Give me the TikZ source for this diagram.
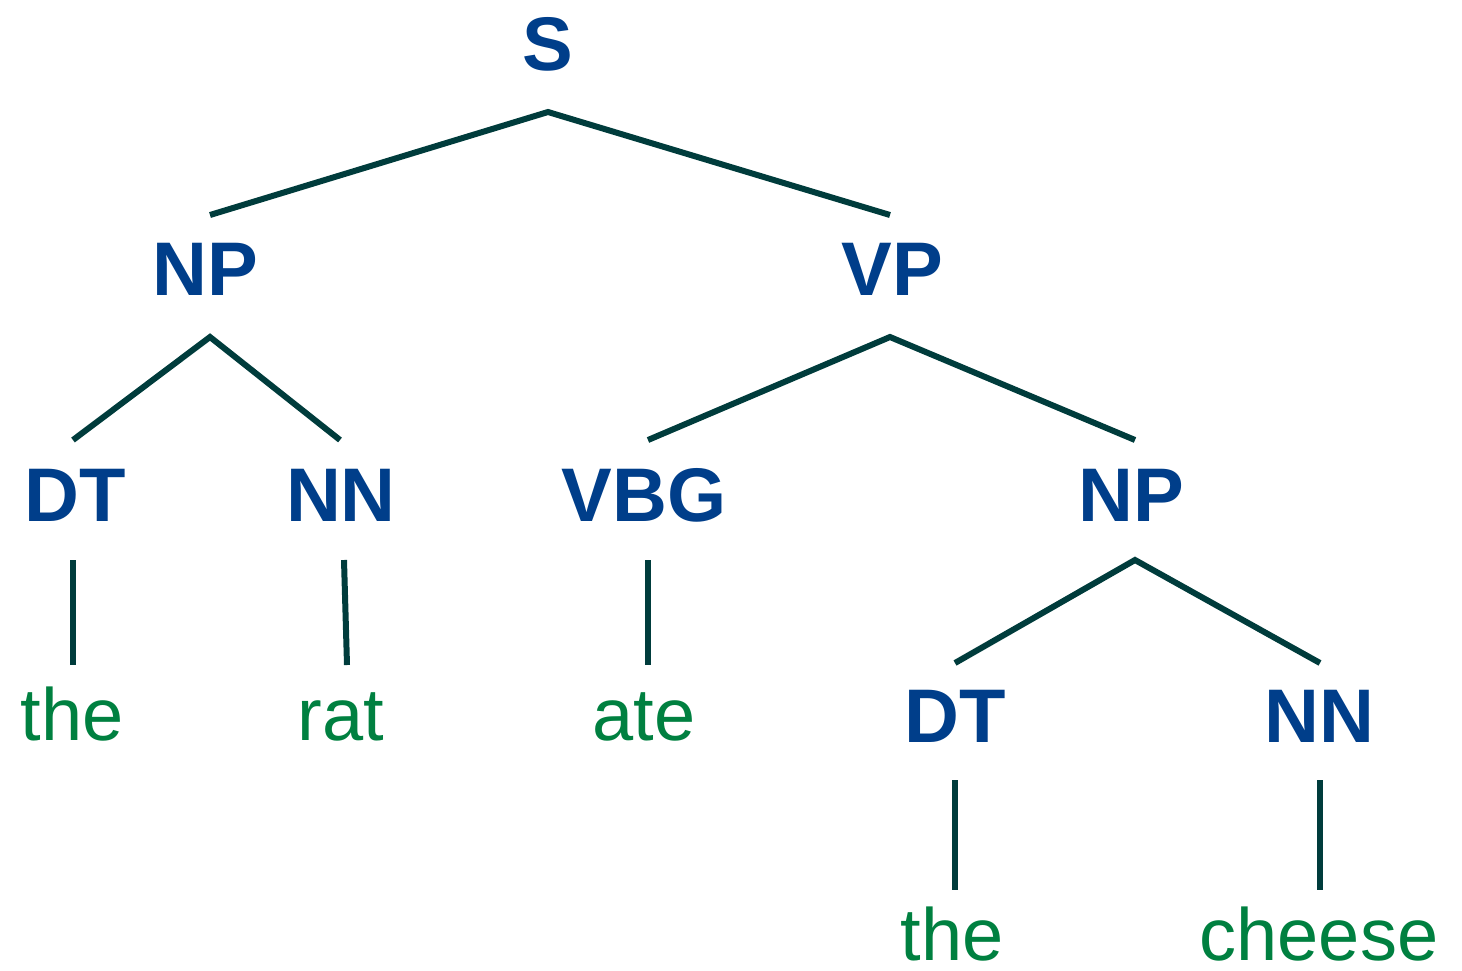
\documentclass[tikz,border=0pt]{standalone}
\usepackage{fontspec}
\setmainfont{Liberation Sans}
\definecolor{tagblue}{RGB}{0,62,138}
\definecolor{wordgreen}{RGB}{0,128,64}
\definecolor{branch}{RGB}{0,60,60}
\begin{document}
\begin{tikzpicture}[x=0.5pt,y=-0.5pt,
  tag/.style={anchor=base,inner sep=0pt,text=tagblue,font=\fontsize{38}{42}\selectfont\bfseries},
  word/.style={anchor=base,inner sep=0pt,text=wordgreen,font=\fontsize{37}{41}\selectfont},
  edge/.style={draw=branch,line width=3pt}]
\useasboundingbox (0,0) rectangle (1462,970);

% phrase and part-of-speech labels
\node[tag]  (S)   at (548,70)  {S};
\node[tag]  (NPa) at (205,295) {NP};
\node[tag]  (VP)  at (892,295) {VP};
\node[tag]  (DTa) at (75,521)  {DT};
\node[tag]  (NNa) at (341,521) {NN};
\node[tag]  (VBG) at (644,521) {VBG};
\node[tag]  (NPb) at (1131,521) {NP};
\node[tag]  (DTb) at (955,742) {DT};
\node[tag]  (NNb) at (1319,742) {NN};

% words
\node[word] (w1) at (72,740)  {the};
\node[word] (w2) at (341,740) {rat};
\node[word] (w3) at (644,740) {ate};
\node[word] (w4) at (952,960) {the};
\node[word] (w5) at (1319,960) {cheese};

% branch end points
\coordinate (S-d)   at (548,112);
\coordinate (NPa-u) at (210,215);
\coordinate (VP-u)  at (890,215);
\coordinate (NPa-d) at (210,337);
\coordinate (DTa-u) at (73,440);
\coordinate (NNa-u) at (340,440);
\coordinate (VP-d)  at (890,337);
\coordinate (VBG-u) at (648,440);
\coordinate (NPb-u) at (1135,440);
\coordinate (DTa-d) at (73,560);
\coordinate (w1-u)  at (73,665);
\coordinate (NNa-d) at (344,560);
\coordinate (w2-u)  at (347,665);
\coordinate (VBG-d) at (648,560);
\coordinate (w3-u)  at (648,665);
\coordinate (NPb-d) at (1135,560);
\coordinate (DTb-u) at (955,663);
\coordinate (NNb-u) at (1320,663);
\coordinate (DTb-d) at (955,780);
\coordinate (w4-u)  at (955,890);
\coordinate (NNb-d) at (1320,780);
\coordinate (w5-u)  at (1320,890);

% branches
\draw[edge] (NPa-u) -- (S-d) -- (VP-u);
\draw[edge] (DTa-u) -- (NPa-d) -- (NNa-u);
\draw[edge] (VBG-u) -- (VP-d) -- (NPb-u);
\draw[edge] (DTb-u) -- (NPb-d) -- (NNb-u);
\draw[edge] (DTa-d) -- (w1-u);
\draw[edge] (NNa-d) -- (w2-u);
\draw[edge] (VBG-d) -- (w3-u);
\draw[edge] (DTb-d) -- (w4-u);
\draw[edge] (NNb-d) -- (w5-u);
\end{tikzpicture}
\end{document}
